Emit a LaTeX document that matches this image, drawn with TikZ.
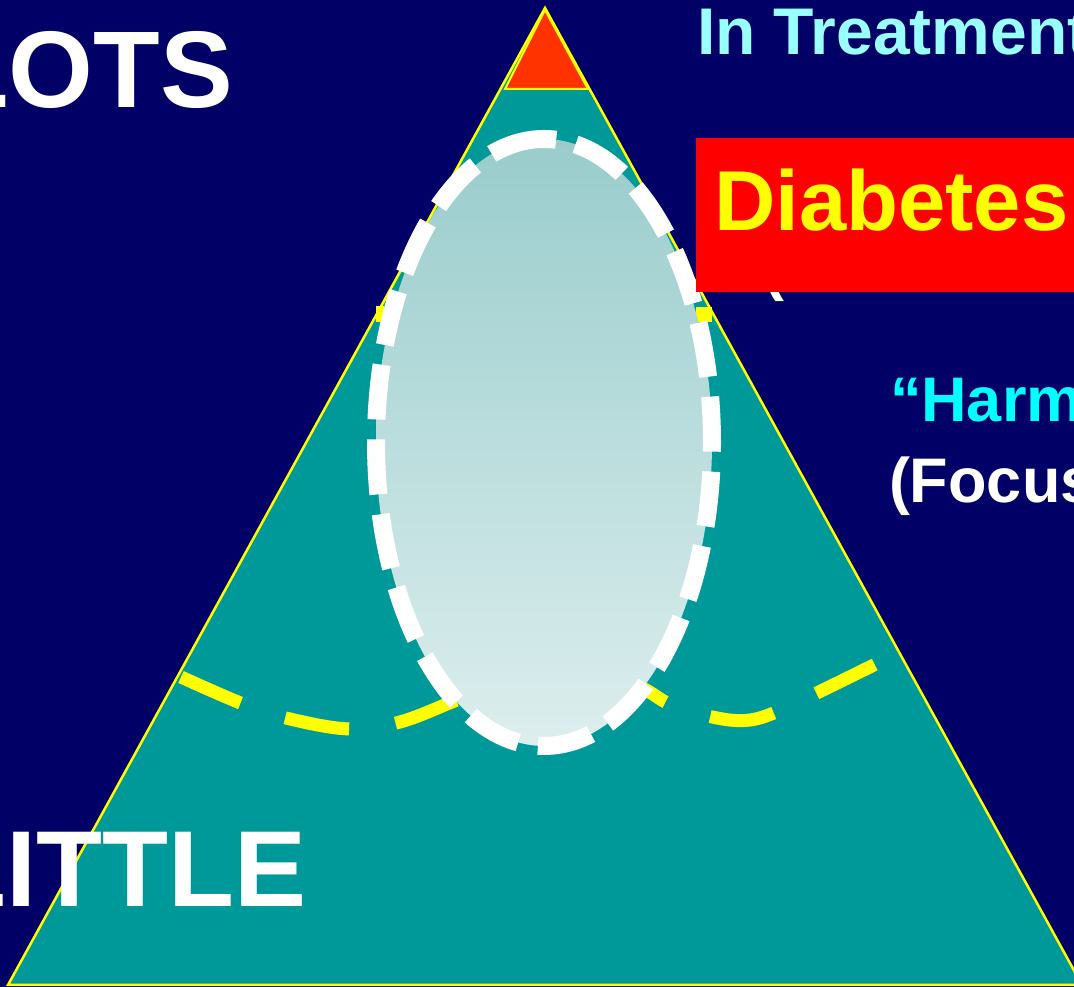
\documentclass[tikz,border=0pt]{standalone}
\usepackage{fontspec}
\setmainfont{Liberation Sans}
\definecolor{bgblue}{HTML}{000066}
\definecolor{tealfill}{HTML}{009999}
\definecolor{redtop}{HTML}{FF3300}
\definecolor{yel}{HTML}{FFFF00}
\definecolor{ellTop}{HTML}{99CCCC}
\definecolor{ellBot}{HTML}{DDEEEE}
\definecolor{lightcyan}{HTML}{99FFFF}
\definecolor{cyanA}{HTML}{00FFFF}
\definecolor{boxred}{HTML}{FF0000}
\tikzset{
  lbl/.style={inner sep=0pt, outer sep=0pt, font=\bfseries},
  bigword/.style={lbl, text=white, font=\bfseries\fontsize{109}{109}\selectfont},
  sidetext/.style={lbl, font=\bfseries\fontsize{63}{63}\selectfont},
  yeldash/.style={draw=yel, line width=13pt, dash pattern=on 65pt off 47pt, line cap=butt},
  ellstroke/.style={draw=white, line width=18pt, dash pattern=on 55pt off 20pt, line cap=butt},
}
\begin{document}
\begin{tikzpicture}[x=1pt,y=1pt]
\useasboundingbox (0,0) rectangle (1074,987);
\fill[bgblue] (0,0) rectangle (1074,987);
% pyramid
\coordinate (apex) at (545,979);
\coordinate (bl) at (8,2);
\coordinate (br) at (1082,2);
\filldraw[fill=tealfill, draw=yel, line width=2.5pt] (apex) -- (bl) -- (br) -- cycle;
\coordinate (rt) at (545,977);
\coordinate (rl) at (505,898);
\coordinate (rr) at (588,898);
\filldraw[fill=redtop, draw=yel, line width=2pt] (rt) -- (rl) -- (rr) -- cycle;
% left labels
\node[bigword, anchor=base east] (lots) at (233,879) {LOTS};
\node[bigword, anchor=base east, font=\bfseries\fontsize{108}{108}\selectfont] (little) at (306,80) {LITTLE};
% small yellow marks at the sides
\fill[yel] (376,665) rectangle (384,681);
\fill[yel] (696,665) rectangle (712,680);
% yellow dashed curve
\draw[yeldash] plot[smooth, tension=0.6] coordinates {
 (181,310) (243,283) (290,268) (350,258) (400,265) (457,287) (520,312) (560,322)
 (610,315) (646,297) (672,282) (717,269) (750,267) (781,277) (823,297) (884,327)};
% ellipse
\coordinate (ellc) at (544,544.5);
\shade[top color=ellTop, bottom color=ellBot] (ellc) ellipse[x radius=168, y radius=303.5];
\draw[ellstroke]
  (544,848) arc[start angle=90, end angle=450, x radius=168, y radius=303.5];
% right side texts
\node[lbl, anchor=base west, text=lightcyan, font=\bfseries\fontsize{66}{66}\selectfont] (treat) at (697,932) {In Treatment};
\node[sidetext, anchor=base west, text=white] (hidden) at (763,698) {(};
\fill[boxred] (696,695) rectangle (1080,849);
\node[lbl, anchor=base west, text=yel, font=\bfseries\fontsize{85}{85}\selectfont] (diab) at (714,756) {Diabetes};
\node[sidetext, anchor=base west, text=cyanA] (harm) at (890,565) {``Harm};
\node[sidetext, anchor=base west, text=white] (focus) at (889,484) {(Focus};
\end{tikzpicture}
\end{document}
